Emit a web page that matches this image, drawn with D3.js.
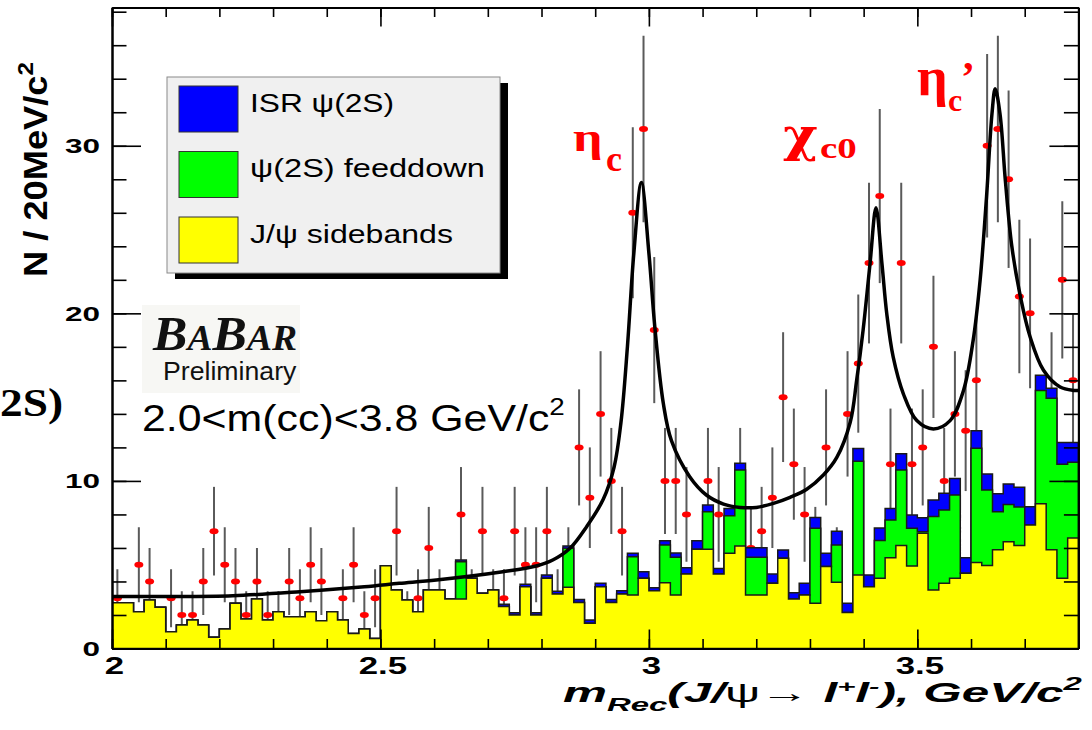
<!DOCTYPE html>
<html>
<head>
<meta charset="utf-8">
<script src="https://cdn.jsdelivr.net/npm/d3@7"></script>
<style>
  body { margin: 0; background: #fff; }
  svg { display: block; }
</style>
</head>
<body>
<svg id="chart" width="1092" height="730"></svg>
<script>
// 20 MeV bins from 2.0 to 3.8 GeV/c2
const binLow = 2.0, binWidth = 0.02;

// observed events per bin
const counts = [
  3, 1, 5, 4, 1, 3, 2, 2, 4, 7,
  5, 4, 2, 4, 2, 2, 4, 3, 5, 4,
  1, 3, 5, 2, 3, 3, 7, 2, 3, 6,
  3, 1, 8, 3, 7, 3, 3, 7, 5, 5,
  7, 3, 5, 12, 9, 14, 10, 7, 26, 31,
  19, 10, 10, 8, 4, 10, 8, 5, 10, 6,
  7, 9, 15, 11, 8, 6, 12, 5, 14, 17,
  23, 27, 11, 23, 11, 12, 18, 10, 14, 13,
  16, 30, 31, 28, 21, 20, 10, 15, 22, 16
];

// background components (stacked: sidebands, feeddown, ISR)
const sideband = [
  2.73, 2.73, 2.2, 2.89, 2.46, 1.0, 1.4, 1.7, 1.4, 0.67,
  1.16, 2.7, 1.76, 2.95, 1.7, 2.2, 1.9, 1.9, 2.2, 1.66,
  2.2, 1.7, 0.9, 1.16, 0.6, 4.94, 3.49, 2.89, 2.2, 3.49,
  3.49, 2.95, 2.95, 4.19, 3.29, 3.49, 2.5, 2.0, 3.69, 2.0,
  4.19, 3.25, 3.65, 2.75, 1.5, 3.69, 2.75, 3.25, 3.19, 4.19,
  3.45, 3.92, 3.19, 4.45, 5.92, 5.92, 4.45, 5.68, 6.12, 3.19,
  3.19, 3.89, 5.38, 2.95, 3.19, 2.7, 4.9, 3.95, 2.15, 4.39,
  3.69, 4.19, 5.41, 6.15, 4.93, 6.87, 3.49, 3.89, 4.19, 4.49,
  5.13, 4.95, 5.9, 6.37, 6.15, 7.37, 8.64, 5.9, 4.19, 6.6
];
const feeddown = [
  0, 0, 0, 0, 0, 0, 0, 0, 0, 0,
  0, 0, 0, 0, 0, 0, 0, 0, 0, 0,
  0, 0, 0, 0, 0, 0, 0, 0, 0, 0,
  0, 0, 2.23, 0, 0, 0, 0, 0, 0, 0,
  0, 0, 2.33, 0, 0, 0, 0, 0, 2.29, 0,
  0, 2.26, 2.25, 0, 0, 2.24, 0, 2.24, 4.53, 2.25,
  2.25, 0, 0, 0, 0, 4.47, 0, 2.23, 0, 6.79,
  0, 2.26, 2.26, 4.5, 2.24, 0.1, 4.38, 4.37, 4.97, 0,
  6.82, 4.51, 2.26, 2.23, 2.29, 0, 6.76, 9.03, 6.81, 4.52
];
const isr = [
  0, 0, 0, 0, 0, 0, 0, 0, 0, 0,
  0, 0, 0, 0, 0, 0, 0, 0, 0, 0,
  0, 0, 0, 0, 0, 0, 0, 0, 0, 0,
  0, 0, 0.1, 0, 0, 0, 0.14, 0.14, 0.14, 0.14,
  0.2, 0.17, 0.14, 0.18, 0.2, 0.2, 0.18, 0.2, 0.2, 0.39,
  0.18, 0.25, 0.26, 0.37, 0.51, 0.4, 0.33, 0.44, 0.4, 0.57,
  0.57, 0.56, 0.5, 0.38, 0.7, 0.64, 0.78, 0.82, 0.55, 0.76,
  0.7, 0.74, 0.69, 0.97, 0.8, 0.83, 0.99, 1.0, 0.99, 0.93,
  1.05, 0.95, 1.07, 1.21, 1.18, 1.09, 0.9, 0.6, 1.3, 1.18
];

// fit curve, sampled off the plot
const fitX = [2.00, 2.10, 2.225, 2.35, 2.47, 2.535, 2.604, 2.728, 2.79, 2.821, 2.853, 2.884, 2.915, 2.935, 2.948,
  2.96, 2.972, 2.986, 3.000, 3.011, 3.027, 3.042, 3.076, 3.107, 3.139, 3.170, 3.200, 3.232, 3.263, 3.294,
  3.325, 3.350, 3.375, 3.387, 3.399, 3.412, 3.423, 3.434, 3.443, 3.455, 3.474, 3.499, 3.530, 3.561,
  3.586, 3.604, 3.617, 3.629, 3.639, 3.645, 3.654, 3.664, 3.676, 3.692, 3.710, 3.735, 3.766, 3.791, 3.800];
const fitY = [3.10, 3.10, 3.15, 3.39, 3.69, 3.89, 4.09, 4.58, 4.92, 5.28, 5.98, 7.27, 8.90, 10.8, 13.5,
  18.0, 23.6, 27.8, 23.6, 19.2, 14.6, 12.4, 10.25, 9.16, 8.62, 8.42, 8.42, 8.66, 9.02, 9.5,
  10.35, 11.4, 13.5, 16.0, 19.0, 23.0, 26.3, 23.0, 20.0, 17.4, 15.2, 13.6, 13.1, 13.6,
  15.4, 18.4, 22.0, 27.0, 31.9, 33.4, 31.9, 27.9, 24.0, 21.0, 18.6, 16.6, 15.6, 15.4, 15.4];

const xTickValues = [2, 2.5, 3, 3.5];
const xTickLabels = ['2', '2.5', '3', '3.5'];
const yTickValues = [0, 10, 20, 30];
const yTickLabels = ['0', '10', '20', '30'];

const layerKeys = ['sideband', 'feeddown', 'isr'];
const legendKeys = ['isr', 'feeddown', 'sideband'];
const legendLabels = ['ISR ψ(2S)', 'ψ(2S) feeddown', 'J/ψ sidebands'];
const layerColors = { sideband: '#ffff00', feeddown: '#00ff00', isr: '#0000ff' };

const sans = '"Liberation Sans", Arial, Helvetica, sans-serif';
const serif = '"Liberation Serif", "Times New Roman", serif';
const greek = '"DejaVu Serif", "Liberation Serif", serif';

const plotL = 112, plotR = 1078.4, plotT = 7.5, plotB = 648.5;
const svg = d3.select('#chart');

const x = d3.scaleLinear().domain([2.0, 3.8]).range([plotL, plotR]);
const y = d3.scaleLinear().domain([0, 38.25]).range([plotB, plotT]);

// squeeze/stretch a text horizontally so it spans x0..x1
function fitText(sel, x0, x1) {
  const b = sel.node().getBBox();
  const k = (x1 - x0) / b.width;
  sel.attr('transform', `translate(${x0 - k * b.x},0) scale(${k},1)`);
}

svg.append('defs').append('clipPath').attr('id', 'plotClip')
  .append('rect').attr('x', plotL).attr('y', plotT)
  .attr('width', plotR - plotL).attr('height', plotB - plotT);

const plot = svg.append('g').attr('clip-path', 'url(#plotClip)');

// data points (drawn below the histograms, as in the original)
const points = counts.map((n, i) => ({ m: binLow + (i + 0.5) * binWidth, n })).filter(d => d.n > 0);
plot.append('g').selectAll('line').data(points).join('line')
  .attr('x1', d => x(d.m)).attr('x2', d => x(d.m))
  .attr('y1', d => y(d.n - Math.sqrt(d.n))).attr('y2', d => y(d.n + Math.sqrt(d.n)))
  .attr('stroke', '#5a5a5a').attr('stroke-width', 2);
plot.append('g').selectAll('ellipse').data(points).join('ellipse')
  .attr('cx', d => x(d.m)).attr('cy', d => y(d.n))
  .attr('rx', 4.5).attr('ry', 3).attr('fill', '#ff0000');

// stacked background histograms
const rows = sideband.map((s, i) => ({ lo: binLow + i * binWidth, sideband: s, feeddown: feeddown[i], isr: isr[i] }));
const series = d3.stack().keys(layerKeys)(rows);
const stepArea = d3.area().curve(d3.curveStepAfter)
  .x(d => x(d.lo)).y0(y(0)).y1(d => y(d.top));

series.slice().reverse().forEach(s => {
  const pts = s.map(d => ({ lo: d.data.lo, top: d[1] }));
  pts.push({ lo: binLow + pts.length * binWidth, top: pts[pts.length - 1].top });
  plot.append('path').datum(pts)
    .attr('d', stepArea)
    .attr('fill', layerColors[s.key])
    .attr('stroke', '#1a1a1a').attr('stroke-width', 1.5);
});

// fit
plot.append('path')
  .datum(fitX.map((v, i) => [v, fitY[i]]))
  .attr('d', d3.line().x(d => x(d[0])).y(d => y(d[1])).curve(d3.curveCatmullRom.alpha(0.5)))
  .attr('fill', 'none').attr('stroke', '#000').attr('stroke-width', 3.5);

// axes: inward ticks on all four sides
function addAxis(gen, tx, ty) {
  const g = svg.append('g').attr('transform', `translate(${tx},${ty})`).call(gen);
  g.select('.domain').attr('stroke', '#000').attr('stroke-width', 2);
  g.selectAll('.tick line').attr('stroke', '#000').attr('stroke-width', 1.6);
  return g;
}
const xMinor = x.ticks(18);
const yMinor = d3.range(0, 39, 2);

addAxis(d3.axisBottom(x).tickValues(xMinor).tickSize(-9.5).tickSizeOuter(0).tickFormat(''), 0, plotB);
const xAxis = addAxis(d3.axisBottom(x).tickValues(xTickValues).tickSize(-19).tickSizeOuter(0)
  .tickFormat((d, i) => xTickLabels[i]), 0, plotB);
xAxis.selectAll('.tick text')
  .attr('y', 8.5).attr('dy', '0.71em')
  .attr('transform', 'translate(2,0) scale(1.45,1)')
  .attr('font-family', sans).attr('font-weight', 'bold').attr('font-size', 24).attr('fill', '#000');

addAxis(d3.axisTop(x).tickValues(xMinor).tickSize(-9.5).tickSizeOuter(0).tickFormat(''), 0, plotT);
addAxis(d3.axisTop(x).tickValues(xTickValues).tickSize(-19).tickSizeOuter(0).tickFormat(''), 0, plotT);

addAxis(d3.axisLeft(y).tickValues(yMinor).tickSize(-14.5).tickSizeOuter(0).tickFormat(''), plotL, 0);
const yAxis = addAxis(d3.axisLeft(y).tickValues(yTickValues).tickSize(-29).tickSizeOuter(0)
  .tickFormat((d, i) => yTickLabels[i]), plotL, 0);
yAxis.selectAll('.tick text')
  .attr('x', 0).attr('dy', '0.32em')
  .attr('transform', 'translate(-12,0) scale(1.5,1)')
  .attr('font-family', sans).attr('font-weight', 'bold').attr('font-size', 21).attr('fill', '#000');

addAxis(d3.axisRight(y).tickValues(yMinor).tickSize(-14.5).tickSizeOuter(0).tickFormat(''), plotR, 0);
addAxis(d3.axisRight(y).tickValues(yTickValues).tickSize(-29).tickSizeOuter(0).tickFormat(''), plotR, 0);

// axis titles
const xTitle = svg.append('text')
  .attr('x', 0).attr('y', 702)
  .attr('font-family', sans).attr('font-weight', 'bold').attr('font-style', 'italic')
  .attr('font-size', 27).attr('fill', '#000');
xTitle.append('tspan').text('m');
xTitle.append('tspan').attr('font-size', 18).attr('dy', 9).text('Rec');
xTitle.append('tspan').attr('dy', -9).text('(J/');
xTitle.append('tspan').attr('font-style', 'normal').attr('font-weight', 'normal').text('ψ→ ');
xTitle.append('tspan').text('l');
xTitle.append('tspan').attr('font-size', 17).attr('dy', -10).text('+');
xTitle.append('tspan').attr('dy', 10).text('l');
xTitle.append('tspan').attr('font-size', 17).attr('dy', -10).text('-');
xTitle.append('tspan').attr('dy', 10).text('), GeV/c');
xTitle.append('tspan').attr('font-size', 18).attr('dy', -12).text('2');
fitText(xTitle, 563, 1082);

const yTitleG = svg.append('g').attr('transform', 'translate(47,277) rotate(-90)');
const yTitle = yTitleG.append('text')
  .attr('x', 0).attr('y', 0)
  .attr('font-family', sans).attr('font-weight', 'bold').attr('font-size', 33).attr('fill', '#000');
yTitle.append('tspan').text('N / 20MeV/c');
yTitle.append('tspan').attr('font-size', 22).attr('dy', -14).text('2');
fitText(yTitle, 0, 215);

// legend
svg.append('rect').attr('x', 175).attr('y', 83).attr('width', 333).attr('height', 196).attr('fill', '#000');
svg.append('rect').attr('x', 167).attr('y', 77).attr('width', 333).attr('height', 196)
  .attr('fill', '#f0f0f0').attr('stroke', '#8a8a8a').attr('stroke-width', 1);
const legendRight = [394, 485, 453];
legendKeys.forEach((k, i) => {
  const top = 86 + i * 65.5;
  svg.append('rect').attr('x', 179).attr('y', top).attr('width', 59).attr('height', 46)
    .attr('fill', layerColors[k]).attr('stroke', '#333').attr('stroke-width', 1);
  const t = svg.append('text').attr('x', 0).attr('y', top + 26)
    .attr('font-family', sans).attr('font-size', 25).attr('fill', '#000')
    .text(legendLabels[i]);
  fitText(t, 250, legendRight[i]);
});

// BaBar logo
svg.append('rect').attr('x', 142).attr('y', 305).attr('width', 158).attr('height', 88).attr('fill', '#f7f7f4');
const logo = svg.append('text').attr('x', 0).attr('y', 350)
  .attr('font-family', serif).attr('font-weight', 'bold').attr('font-style', 'italic').attr('fill', '#111');
logo.append('tspan').attr('font-size', 48).text('B');
logo.append('tspan').attr('font-size', 35).text('A');
logo.append('tspan').attr('font-size', 48).text('B');
logo.append('tspan').attr('font-size', 35).text('AR');
fitText(logo, 152, 297);
const prelim = svg.append('text').attr('x', 0).attr('y', 380)
  .attr('font-family', sans).attr('font-size', 25).attr('fill', '#111').text('Preliminary');
fitText(prelim, 163, 297);

// mass window note
const note = svg.append('text').attr('x', 0).attr('y', 431)
  .attr('font-family', sans).attr('font-size', 37).attr('fill', '#000');
note.append('tspan').text('2.0<m(cc)<3.8 GeV/c');
note.append('tspan').attr('font-size', 24).attr('dy', -16).text('2');
fitText(note, 142, 565);

// cut-off label at left edge
const cut = svg.append('text').attr('x', 0).attr('y', 416)
  .attr('font-family', serif).attr('font-weight', 'bold').attr('font-size', 40).attr('fill', '#000').text('2S)');
fitText(cut, 0, 63);

// resonance labels
function redText(str, px, py, size, sx, family) {
  svg.append('text')
    .attr('transform', `translate(${px},${py}) scale(${sx},1)`)
    .attr('font-family', family || serif).attr('font-weight', 'bold').attr('font-size', size)
    .attr('fill', '#ff0000').text(str);
}
redText('η', 573, 151, 40, 1.3);
redText('c', 606, 171, 36, 1.0);
redText('χ', 783, 151, 46, 1.15, greek);
redText('c0', 820, 158, 30, 1.3);
redText('η', 917, 95, 54, 1.0);
redText('c', 948, 111, 32, 1.0);
redText('’', 961, 91, 42, 1.0);
</script>
</body>
</html>
